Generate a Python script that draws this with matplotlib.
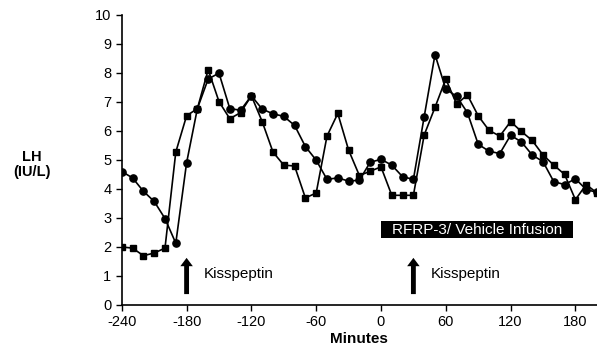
import numpy as np
import matplotlib.pyplot as plt
from matplotlib.patches import Rectangle

plt.rcParams['font.family'] = ['Liberation Sans', 'DejaVu Sans']
plt.rcParams['axes.unicode_minus'] = False

# sampling times (minutes)
minutes = np.arange(-240, 201, 10)

# LH (IU/L), circle series
lh_circle = [4.6, 4.38, 3.92, 3.57, 2.98, 2.13, 4.9, 6.77, 7.79, 7.99,
             6.77, 6.71, 7.21, 6.75, 6.59, 6.5, 6.19, 5.46, 4.99, 4.33,
             4.38, 4.27, 4.3, 4.92, 5.02, 4.82, 4.42, 4.33, 6.49, 8.63,
             7.44, 7.19, 6.63, 5.54, 5.3, 5.22, 5.85, 5.62, 5.17, 4.94,
             4.25, 4.15, 4.35, 3.98, 3.88]

# LH (IU/L), square series
lh_square = [2.0, 1.96, 1.7, 1.79, 1.96, 5.27, 6.52, 6.77, 8.11, 7.01,
             6.42, 6.63, 7.21, 6.32, 5.27, 4.82, 4.79, 3.69, 3.86, 5.82,
             6.6, 5.34, 4.46, 4.61, 4.76, 3.78, 3.78, 3.78, 5.86, 6.81,
             7.79, 6.92, 7.24, 6.52, 6.02, 5.82, 6.32, 5.98, 5.67, 5.17,
             4.82, 4.5, 3.63, 4.15, 3.86]

kiss_times = [-180, 30]
infusion = (0, 178)

fig = plt.figure(figsize=(5.97, 3.53), dpi=100)
ax = fig.add_axes([0.204, 0.136, 0.796, 0.822])

ax.plot(minutes, lh_circle, color='black', lw=1.2, marker='o', ms=5.2)
ax.plot(minutes, lh_square, color='black', lw=1.2, marker='s', ms=5.0)

# kisspeptin arrows + labels
for t in kiss_times:
    ax.annotate('', xy=(t, 1.72), xytext=(t, 0.28),
                arrowprops=dict(arrowstyle='simple,head_width=0.9,head_length=0.6,tail_width=0.35',
                                color='black', lw=0))
    ax.text(t + 16, 1.07, 'Kisspeptin', fontsize=11, va='center', ha='left')

# infusion bar
ax.add_patch(Rectangle((infusion[0], 2.3), infusion[1] - infusion[0], 0.58,
                       fc='black', ec='none'))
ax.text(infusion[0] + 10, 2.59, 'RFRP-3/ Vehicle Infusion',
        fontsize=11, color='white', va='center', ha='left')

ax.set_xlim(-240, 200)
ax.set_ylim(0, 10)
ax.set_xticks(np.arange(-240, 181, 60))
ax.set_yticks(np.arange(0, 11, 1))
ax.tick_params(labelsize=10.5, direction='out', length=4, width=1)
ax.spines['top'].set_visible(False)
ax.spines['right'].set_visible(False)
ax.spines['left'].set_linewidth(1.2)
ax.spines['bottom'].set_linewidth(1.2)

ax.set_xlabel('Minutes', fontsize=11, fontweight='bold', labelpad=2)
fig.text(0.054, 0.535, 'LH\n(IU/L)', fontsize=10.5, fontweight='bold',
         ha='center', va='center', linespacing=1.1)

fig.savefig('out.png', dpi=100)
